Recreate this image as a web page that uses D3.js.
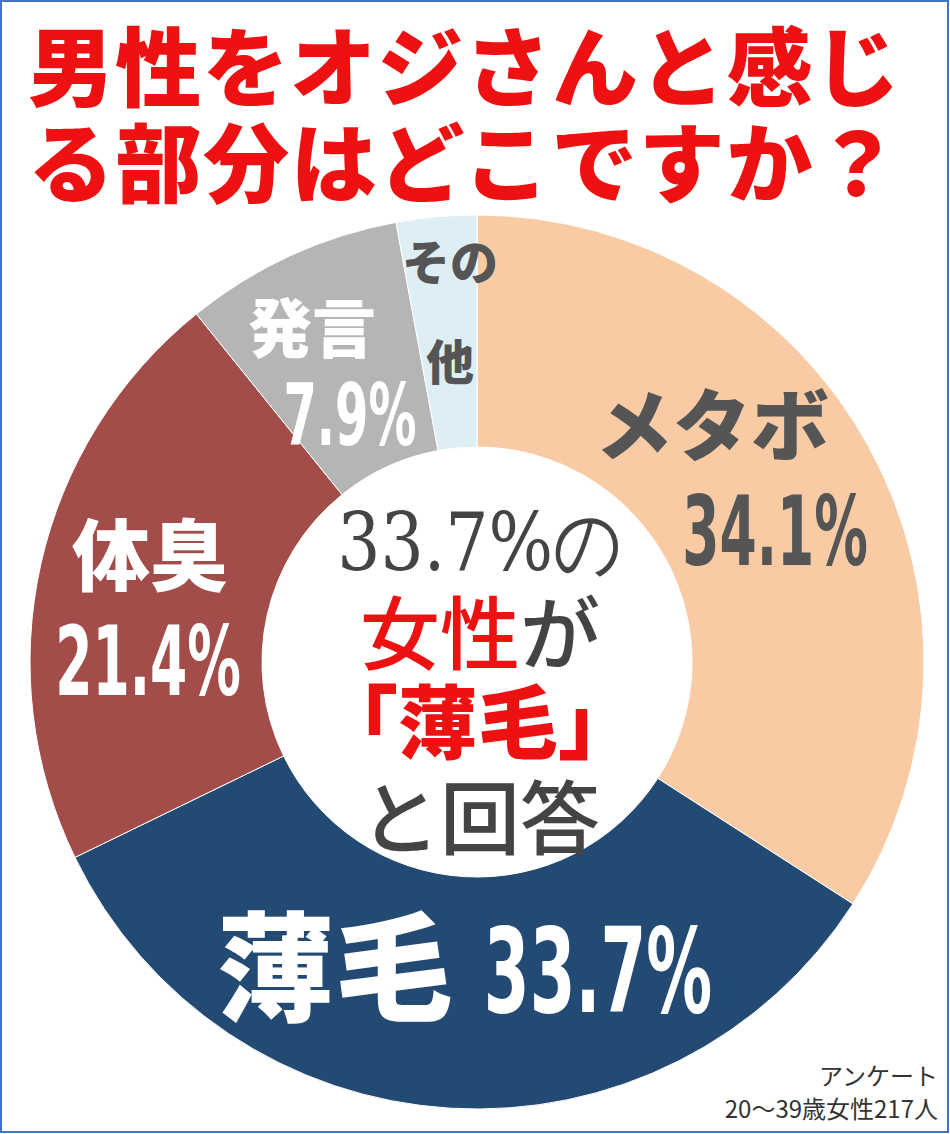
<!DOCTYPE html><html><head><meta charset="utf-8">
<script src="https://cdn.jsdelivr.net/npm/d3@7"></script>
<style>body{margin:0;background:#fff}svg{display:block}</style></head><body>
<svg id="c" width="950" height="1134"></svg>
<script>
const categories=["メタボ","薄毛","体臭","発言","その他"];
const values=[34.1,33.7,21.4,7.9,2.9];
const colors=["#F8CBA5","#234A72","#A24D4A","#B5B5B5","#DDEEF5"];
const svg=d3.select("#c");
svg.append("rect").attr("x",1).attr("y",1).attr("width",947).attr("height",1131).attr("fill","#fff").attr("stroke","#4472C4").attr("stroke-width",2);
const cx=477,cy=662,R=447,r=215;
const pie=d3.pie().sort(null)(values);
const arc=d3.arc().innerRadius(r).outerRadius(R);
const g=svg.append("g").attr("transform",`translate(${cx},${cy})`);
g.selectAll("path").data(pie).join("path").attr("d",arc).attr("fill",(d,i)=>colors[i]).attr("stroke","#fff").attr("stroke-width",1);
const J="'Noto Sans CJK JP',sans-serif";
const t=svg.append("g").attr("font-family",J).attr("font-weight","900").attr("fill","#EE1111").attr("font-size",86);
t.append("text").attr("x",28).attr("y",100).attr("textLength",872).text("男性をオジさんと感じ");
t.append("text").attr("x",28).attr("y",196).attr("textLength",872).text("る部分はどこですか？");
function lab(x,y,s,fs,fill,anchor,sx){svg.append("text").attr("transform",`translate(${x},${y}) scale(${sx||1},1)`).attr("text-anchor",anchor||"middle").attr("font-family",J).attr("font-weight","900").attr("font-size",fs).attr("fill",fill).text(s);}
const N="'DejaVu Sans Condensed','DejaVu Sans',sans-serif";
function num(x,y,s,fs,fill,sx){svg.append("text").attr("transform",`translate(${x},${y}) scale(${sx},1)`).attr("text-anchor","middle").attr("font-family",N).attr("font-weight","bold").attr("font-size",fs).attr("fill",fill).text(s);}
lab(712,455,categories[0],78,"#555");
num(775,565,values[0]+"%",96,"#555",0.62);
lab(150,585,categories[2],78,"#fff");
num(148,695,values[2]+"%",96,"#fff",0.62);
lab(312,352,categories[3],64,"#fff");
num(350,445,values[3]+"%",86,"#fff",0.62);
lab(450,280,"その",48,"#555");
lab(450,380,"他",48,"#555");
lab(335,1012,categories[1],118,"#fff");
num(598,1012,values[1]+"%",118,"#fff",0.62);
const S="'DejaVu Serif',serif";
const c=svg.append("g").attr("text-anchor","middle").attr("font-size",80);
c.append("text").attr("font-family",S).attr("fill","#444").attr("transform","translate(480,570) scale(0.85,1)").text("33.7%の");
const l2=c.append("text").attr("x",480).attr("y",663).attr("font-family",J).attr("font-weight","500");
l2.append("tspan").attr("fill","#EE1111").text("女性");l2.append("tspan").attr("fill","#444").text("が");
c.append("text").attr("x",478).attr("y",752).attr("font-family",J).attr("font-weight","900").attr("fill","#EE1111").text("「薄毛」");
c.append("text").attr("x",480).attr("y",848).attr("font-family",J).attr("font-weight","500").attr("fill","#444").text("と回答");
const n=svg.append("g").attr("text-anchor","end").attr("font-family",J).attr("font-size",24).attr("fill","#333");
n.append("text").attr("x",938).attr("y",1085).text("アンケート");
n.append("text").attr("x",938).attr("y",1118).text("20〜39歳女性217人");
</script></body></html>
